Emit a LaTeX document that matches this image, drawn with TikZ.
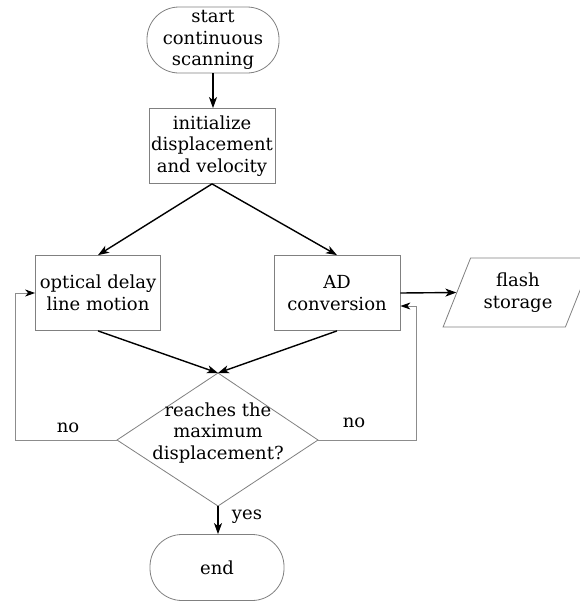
\documentclass[tikz,border=0pt]{standalone}
\usepackage{fontspec}
\setmainfont{DejaVu Serif}
\usetikzlibrary{arrows.meta,shapes.misc,shapes.geometric}
\begin{document}
\begin{tikzpicture}[x=1pt,y=-1pt,
  txt/.style={font=\fontsize{18}{21.5}\selectfont, align=center, text=black},
  term/.style={txt, draw=black!50, line width=0.8pt, rectangle, rounded corners=32pt, minimum width=#1, minimum height=66pt, inner sep=0pt},
  proc/.style={txt, draw=black!50, line width=0.8pt, rectangle, minimum width=126pt, minimum height=75pt, inner sep=0pt},
  io/.style={txt, draw=black!50, line width=0.8pt, trapezium, trapezium left angle=63, trapezium right angle=117, trapezium stretches=true, minimum width=150pt, minimum height=69pt, inner sep=0pt},
  main/.style={draw=black, line width=1.4pt, -{Stealth[length=11pt,width=8pt,inset=3pt]}},
  back/.style={draw=black!45, line width=0.9pt, -{Stealth[length=10pt,width=7pt,inset=3pt,black]}},
  lbl/.style={font=\fontsize{18}{20}\selectfont, text=black}
]
\useasboundingbox (0,0) rectangle (580,603);
\fill[white] (0,0) rectangle (580,603);

\node[term=132pt] (start) at (213,40) {start\\continuous\\scanning};
\node[proc] (init) at (212,146) {initialize\\displacement\\and velocity};
\node[proc, minimum width=125pt] (opt) at (98,293) {optical delay\\line motion};
\node[proc] (ad) at (337,293) {AD\\conversion};
\node[io] (flash) at (518,292.5) {flash\\storage};

\coordinate (dtop) at (218,373);
\coordinate (dright) at (318,440);
\coordinate (dbot) at (218,506);
\coordinate (dleft) at (117,440);
\draw[draw=black!50, line width=0.8pt] (dtop) -- (dright) -- (dbot) -- (dleft) -- cycle;
\node[txt] (dec) at (218,433) {reaches the\\maximum\\displacement?};

\node[term=134pt] (end) at (217,567.5) {end};

\draw[main] (start.south) -- (start.south |- init.north);
\draw[main] (init.south) -- (opt.north);
\draw[main] (init.south) -- (ad.north);
\draw[main] (ad.east) -- (flash.west);
\draw[main] (opt.south) -- (dtop);
\draw[main] (ad.south) -- (dtop);
\draw[main] (dbot) -- (dbot |- end.north);

\coordinate (lc) at (15,440);
\coordinate (rc) at (416,440);
\draw[back] (dleft) -- (lc) |- (opt.west);
\draw[back] (dright) -- (rc) |- ([yshift=-13pt]ad.east);

\node[lbl] (nol) at (68,428) {no};
\node[lbl] (nor) at (354,423) {no};
\node[lbl] (yes) at (247,517) {yes};
\end{tikzpicture}
\end{document}
